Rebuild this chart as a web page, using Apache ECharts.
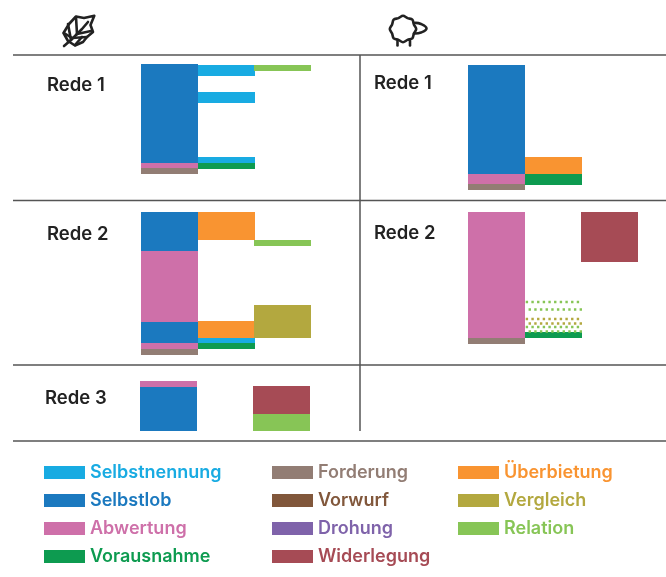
<!DOCTYPE html>
<html>
<head>
<meta charset="utf-8">
<style>html,body{margin:0;padding:0;background:#fff}#c{width:666px;height:577px}</style>
<script src="https://cdn.jsdelivr.net/npm/echarts@6/dist/echarts.min.js"></script>
</head>
<body>
<div id="c"></div>
<script>
// Categories
const legendColumn1 = ['Selbstnennung', 'Selbstlob', 'Abwertung', 'Vorausnahme'];
const legendColumn2 = ['Forderung', 'Vorwurf', 'Drohung', 'Widerlegung'];
const legendColumn3 = ['Überbietung', 'Vergleich', 'Relation'];
const categoryColors = {
  'Selbstnennung': '#18abe2', 'Selbstlob': '#1b79bf', 'Abwertung': '#ce70a9', 'Vorausnahme': '#0d9b50',
  'Forderung': '#927d74', 'Vorwurf': '#81573b', 'Drohung': '#7f63aa', 'Widerlegung': '#a64b55',
  'Überbietung': '#f99431', 'Vergleich': '#b3a83f', 'Relation': '#87c556'
};

// Tiles: [column, from, to, category], read along the length of each speech
const weizenRede1 = [
  [0, 0, 99, 'Selbstlob'], [0, 99, 104, 'Abwertung'], [0, 104, 110, 'Forderung'],
  [1, 1, 12, 'Selbstnennung'], [1, 28, 39, 'Selbstnennung'], [1, 93, 99, 'Selbstnennung'], [1, 99, 105, 'Vorausnahme'],
  [2, 1, 7, 'Relation']
];
const weizenRede2 = [
  [0, 0, 39, 'Selbstlob'], [0, 39, 110, 'Abwertung'], [0, 110, 131, 'Selbstlob'], [0, 131, 137, 'Abwertung'], [0, 137, 143, 'Forderung'],
  [1, 0, 28, 'Überbietung'], [1, 109, 126, 'Überbietung'], [1, 126, 131, 'Selbstnennung'], [1, 131, 137, 'Vorausnahme'],
  [2, 28, 34, 'Relation'], [2, 93, 126, 'Vergleich']
];
const weizenRede3 = [
  [0, 0, 6, 'Abwertung'], [0, 6, 50, 'Selbstlob'],
  [2, 5, 33, 'Widerlegung'], [2, 33, 50, 'Relation']
];
const schafRede1 = [
  [0, 0, 109, 'Selbstlob'], [0, 109, 119, 'Abwertung'], [0, 119, 125, 'Forderung'],
  [1, 92, 109, 'Überbietung'], [1, 109, 120, 'Vorausnahme']
];
const schafRede2 = [
  [0, 0, 126, 'Abwertung'], [0, 126, 132, 'Forderung'],
  [1, 120, 126, 'Vorausnahme'],
  [2, 0, 50, 'Widerlegung']
];
// Dotted rows: [column, position, category, phase]
const schafRede2Dotted = [
  [1, 90, 'Relation', 0], [1, 97.5, 'Relation', 2.8],
  [1, 107, 'Vergleich', 0], [1, 111.5, 'Vergleich', 2.8],
  [1, 115, 'Relation', 0], [1, 119.5, 'Relation', 2.8]
];

const panels = [
  { title: 'Rede 1', tiles: weizenRede1, dotted: [], left: 141, top: 64, height: 110, tx: 47, ty: 85 },
  { title: 'Rede 2', tiles: weizenRede2, dotted: [], left: 141, top: 212, height: 143, tx: 47, ty: 234 },
  { title: 'Rede 3', tiles: weizenRede3, dotted: [], left: 140, top: 381, height: 50, tx: 45, ty: 398 },
  { title: 'Rede 1', tiles: schafRede1, dotted: [], left: 468, top: 65, height: 125, tx: 374, ty: 83 },
  { title: 'Rede 2', tiles: schafRede2, dotted: schafRede2Dotted, left: 468, top: 212, height: 132, tx: 374, ty: 233 }
];
const COL_W = 57;
const allCats = legendColumn1.concat(legendColumn2, legendColumn3);
const FONT = 'Inter, Lato, sans-serif';

const grid = [], xAxis = [], yAxis = [], series = [];
panels.forEach((p, i) => {
  grid.push({ left: p.left, top: p.top, width: COL_W * 3, height: p.height, containLabel: false });
  xAxis.push({ gridIndex: i, type: 'value', min: 0, max: 3, show: false });
  yAxis.push({ gridIndex: i, type: 'value', min: 0, max: p.height, inverse: true, show: false });
  allCats.forEach(cat => {
    const color = categoryColors[cat];
    series.push({
      type: 'custom', name: cat, xAxisIndex: i, yAxisIndex: i, clip: false, animation: false, silent: true,
      itemStyle: { color },
      data: p.tiles.filter(t => t[3] === cat).map(t => [t[0], t[1], t[2]]),
      renderItem: (params, api) => {
        const col = api.value(0);
        const a = api.coord([col, api.value(1)]);
        const b = api.coord([col + 1, api.value(2)]);
        const shift = col === 2 ? -1 : 0;
        return { type: 'rect', shape: { x: a[0] + shift, y: a[1], width: b[0] - a[0], height: b[1] - a[1] }, style: { fill: color } };
      }
    });
    const dots = p.dotted.filter(d => d[2] === cat);
    if (dots.length) {
      series.push({
        type: 'custom', name: cat, xAxisIndex: i, yAxisIndex: i, clip: false, animation: false, silent: true,
        itemStyle: { color },
        data: dots.map(d => [d[0], d[1], d[3]]),
        renderItem: (params, api) => {
          const col = api.value(0);
          const a = api.coord([col, api.value(1)]);
          const b = api.coord([col + 1, api.value(1)]);
          return {
            type: 'line',
            shape: { x1: a[0] + 0.7, y1: a[1], x2: b[0], y2: b[1] },
            style: { stroke: color, lineWidth: 2.4, lineDash: [2.4, 3.27], lineDashOffset: api.value(2), fill: null }
          };
        }
      });
    }
  });
});

const legendBase = { orient: 'vertical', top: 463.5, height: 112, icon: 'rect', itemWidth: 41, itemHeight: 13, itemGap: 10, padding: 0, selectedMode: false };
const legendData = names => names.map(name => ({
  name, textStyle: { color: categoryColors[name], fontFamily: FONT, fontWeight: 600, fontSize: 18 }
}));
const legend = [
  Object.assign({}, legendBase, { left: 44, data: legendData(legendColumn1) }),
  Object.assign({}, legendBase, { left: 272, data: legendData(legendColumn2) }),
  Object.assign({}, legendBase, { left: 458, data: legendData(legendColumn3) })
];

// Rules
const RULE = '#555';
const rule = (x1, y1, x2, y2, w) => ({ type: 'line', silent: true, shape: { x1, y1, x2, y2 }, style: { stroke: RULE, lineWidth: w || 1.5 } });
const graphics = [
  rule(13, 55, 666, 55), rule(13, 200.5, 666, 200.5), rule(13, 365, 666, 365), rule(13, 441, 666, 441),
  rule(360, 55, 360, 431)
];
panels.forEach(p => graphics.push({
  type: 'text', silent: true, left: p.tx, top: p.ty - 9,
  style: { text: p.title, fill: '#222', font: '600 18.5px ' + FONT }
}));

// Icons
const ink = { stroke: '#222', lineWidth: 2.6, fill: null, lineJoin: 'round', lineCap: 'round' };
const icon = (type, points, smooth) => ({ type, silent: true, shape: { points, smooth: smooth || 0 }, style: ink });
graphics.push(
  icon('polygon', [[94.3, 15.7], [84, 18], [76, 16.5], [69, 24], [63.5, 33], [68, 41], [75, 45.5], [83, 42], [87, 37], [93, 32], [90.5, 25]]),
  icon('polyline', [[64, 46], [71, 40], [82, 29], [88, 22]]),
  icon('polyline', [[76, 17], [77, 34]]),
  icon('polyline', [[68, 24], [71, 40]]),
  icon('polyline', [[64, 33], [72, 38]]),
  icon('polyline', [[91, 31], [77, 34]]),
  icon('polyline', [[87, 37], [72, 38]]),
  icon('polyline', [[75, 45], [82, 37]])
);
const fleece = [];
for (let k = 0; k < 16; k++) {
  const ang = k / 16 * Math.PI * 2;
  const r = k % 2 ? 11.8 : 13.2;
  fleece.push([403 + r * Math.cos(ang), 29 + r * Math.sin(ang)]);
}
graphics.push(
  icon('polygon', fleece, 0.35),
  icon('polyline', [[414, 23], [421, 24], [426.5, 28.5], [421, 32.5], [414, 33.5]], 0.5),
  icon('polyline', [[397.5, 41], [397.5, 45.5]]),
  icon('polyline', [[410, 41], [410, 45.5]])
);

const chart = echarts.init(document.getElementById('c'), null, { renderer: 'canvas' });
chart.setOption({ backgroundColor: '#fff', animation: false, grid, xAxis, yAxis, legend, series, graphic: { elements: graphics } });
</script>
</body>
</html>
